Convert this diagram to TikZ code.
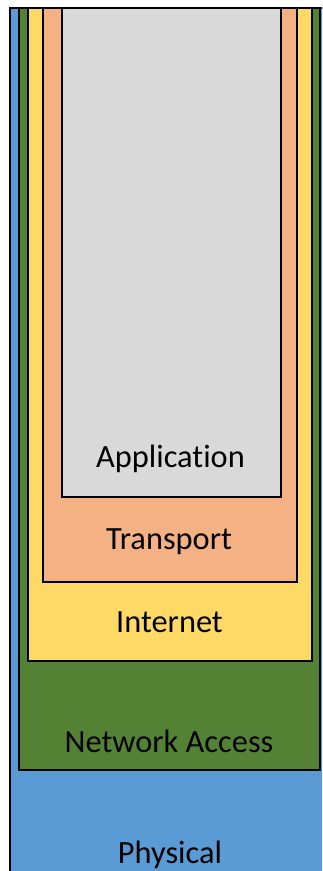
\documentclass[tikz,border=0pt]{standalone}
\usepackage{fontspec}
\setmainfont{Carlito}[Ligatures={NoCommon}]
\definecolor{physblue}{HTML}{5B9BD5}
\definecolor{netgreen}{HTML}{548235}
\definecolor{inetyellow}{HTML}{FFD966}
\definecolor{transorange}{HTML}{F4B183}
\definecolor{appgray}{HTML}{D9D9D9}
\tikzset{
  layer/.style={draw=black, line width=2pt},
  layerlabel/.style={anchor=base, inner sep=0pt, font=\fontsize{32.4}{38}\selectfont, text=black}
}
\begin{document}
\begin{tikzpicture}[x=1pt,y=1pt]
  \useasboundingbox (0,0) rectangle (322,871);
  \fill[white] (0,0) rectangle (322,871);
  \begin{scope}
    \clip (0,0) rectangle (322,871);
    % nested protocol layers, outermost first
    \draw[layer, fill=physblue]    (10,-20) rectangle (340,863);
    \draw[layer, fill=netgreen]    (19,101) rectangle (320,863);
    \draw[layer, fill=inetyellow]  (28,210) rectangle (312,863);
    \draw[layer, fill=transorange] (43,289) rectangle (297,863);
    \draw[layer, fill=appgray]     (62,374) rectangle (281,863);
  \end{scope}
  \node[layerlabel] (app)  at (170.5,403) {Application};
  \node[layerlabel] (tran) at (169,321) {Transport};
  \node[layerlabel] (inet) at (169.5,238) {Internet};
  \node[layerlabel] (nacc) at (169,118) {Network Access};
  \node[layerlabel] (phys) at (170,8) {Physical};
\end{tikzpicture}
\end{document}
